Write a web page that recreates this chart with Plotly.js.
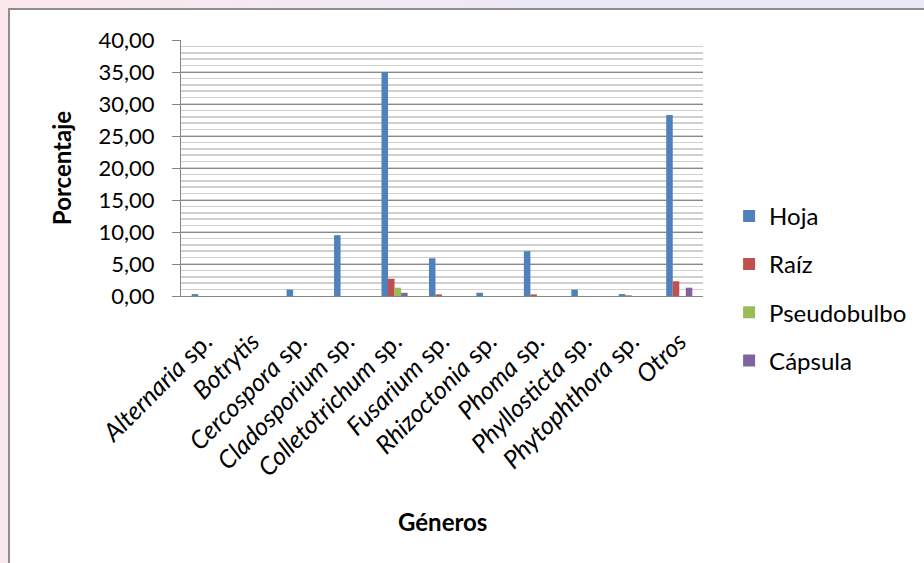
<!DOCTYPE html>
<html>
<head>
<meta charset="utf-8">
<script src="https://cdn.plot.ly/plotly-3.0.1.min.js"></script>
<style>
  html, body { margin: 0; padding: 0; width: 924px; height: 563px; overflow: hidden; }
  body { background: linear-gradient(100deg, #fce8ec 0%, #efe9f6 45%, #e9e9f7 100%); position: relative; }
  #frame { position: absolute; left: 8px; top: 8px; width: 930px; height: 570px;
           background: #ffffff; border: 2px solid #8e8e8e; box-sizing: border-box; }
  #chart { position: absolute; left: 0; top: 0; width: 924px; height: 563px; }
</style>
</head>
<body>
<div id="frame"></div>
<div id="chart"></div>
<script>
// Géneros de hongos aislados por órgano de la planta (porcentaje)
const generos = ["<i>Alternaria</i> sp.", "<i>Botrytis</i>", "<i>Cercospora</i> sp.", "<i>Cladosporium</i> sp.",
  "<i>Colletotrichum</i> sp.", "<i>Fusarium</i> sp.", "<i>Rhizoctonia</i> sp.", "<i>Phoma</i> sp.",
  "<i>Phyllosticta</i> sp.", "<i>Phytophthora</i> sp.", "<i>Otros</i>"];
const hoja         = [0.3, 0.0, 1.0, 9.5, 35.0, 5.9, 0.5, 7.0, 1.0, 0.3, 28.3];
const raiz         = [0.0, 0.0, 0.0, 0.0, 2.7, 0.25, 0.0, 0.25, 0.0, 0.1, 2.3];
const pseudobulbo  = [0.0, 0.0, 0.0, 0.0, 1.3, 0.0, 0.0, 0.0, 0.0, 0.0, 0.0];
const capsula      = [0.0, 0.0, 0.0, 0.0, 0.5, 0.0, 0.0, 0.0, 0.0, 0.0, 1.3];
const yTicks = [0, 5, 10, 15, 20, 25, 30, 35, 40];

const series = [
  {name: "Hoja", y: hoja, color: "#4f81bd"},
  {name: "Raíz", y: raiz, color: "#c0504d"},
  {name: "Pseudobulbo", y: pseudobulbo, color: "#9bbb59"},
  {name: "Cápsula", y: capsula, color: "#8064a2"}
];

const fontFam = "Lato, 'Open Sans', 'DejaVu Sans', sans-serif";

const data = series.map((s, i) => ({
  type: "bar",
  name: s.name,
  x: generos,
  y: s.y,
  marker: {color: s.color, line: {width: 0}},
  legendgroup: "g" + i,
  hoverinfo: "x+y+name"
}));

const layout = {
  width: 924,
  height: 563,
  margin: {l: 181, r: 218, t: 40, b: 267, pad: 0},
  paper_bgcolor: "rgba(0,0,0,0)",
  plot_bgcolor: "rgba(0,0,0,0)",
  separators: ",.",
  barmode: "group",
  bargap: 0.45,
  bargroupgap: 0,
  font: {family: fontFam, color: "#000000", size: 20},
  showlegend: true,
  legend: {
    x: 1.05, xanchor: "left",
    y: 0.03, yanchor: "middle",
    traceorder: "grouped",
    tracegroupgap: 14,
    font: {family: fontFam, size: 24, color: "#000000"},
    bgcolor: "rgba(0,0,0,0)",
    itemwidth: 30
  },
  xaxis: {
    type: "category",
    tickangle: -45,
    tickfont: {family: fontFam, size: 25, color: "#000000"},
    ticklabelstandoff: 20,
    showline: true,
    linecolor: "#868686",
    linewidth: 1,
    ticks: "",
    showgrid: false,
    automargin: false
  },
  yaxis: {
    range: [0, 40],
    tickvals: yTicks,
    tickformat: ".2f",
    tickfont: {family: fontFam, size: 22, color: "#000000"},
    ticks: "outside",
    ticklen: 8,
    tickcolor: "#868686",
    ticklabelstandoff: 13,
    showline: true,
    linecolor: "#868686",
    linewidth: 1,
    showgrid: true,
    gridcolor: "#8a8a8a",
    gridwidth: 1,
    zeroline: false,
    minor: {dtick: 1, showgrid: true, gridcolor: "#cfcfcf", gridwidth: 1.5, ticks: ""},
    automargin: false,
    title: {text: "<b>Porcentaje</b>", font: {family: fontFam, size: 24, color: "#000000"}, standoff: 20}
  },
  annotations: [{
    text: "<b>Géneros</b>",
    xref: "paper", yref: "paper",
    x: 0.5, y: -0.879,
    xanchor: "center", yanchor: "middle",
    showarrow: false,
    font: {family: fontFam, size: 24, color: "#000000"}
  }]
};

Plotly.newPlot("chart", data, layout, {displayModeBar: false, staticPlot: true});
</script>
</body>
</html>
